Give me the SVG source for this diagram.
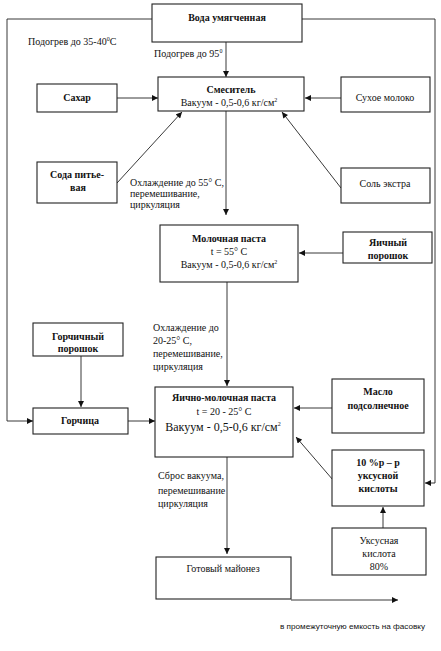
<svg xmlns="http://www.w3.org/2000/svg" width="441" height="651" viewBox="0 0 441 651">
<defs>
<marker id="ah" viewBox="0 0 10 10" refX="10" refY="5" markerWidth="7" markerHeight="6" markerUnits="userSpaceOnUse" orient="auto">
<path d="M0,0 L10,5 L0,10 z" fill="#111"/>
</marker>
<style>
.box{fill:#fff;stroke:#222;stroke-width:1.1}
.ln{fill:none;stroke:#222;stroke-width:0.9;marker-end:url(#ah)}
.nl{fill:none;stroke:#222;stroke-width:0.9}
text{font-family:"Liberation Serif","Times New Roman",serif;font-size:10px;fill:#111}
.b{font-weight:bold}
.c{text-anchor:middle}
.sup{font-size:6px}
</style>
</defs>
<rect width="441" height="651" fill="#fff"/>
<g id="connectors">
<path class="ln" d="M152,19 H7 V421 H33"/>
<path class="ln" d="M302,19 H435 V483 H425"/>
<path class="ln" d="M226,42 V77"/>
<path class="ln" d="M117,98 H158"/>
<path class="ln" d="M341,98 H305"/>
<path class="ln" d="M117,183 L182,112"/>
<path class="ln" d="M341,188 L282,112"/>
<path class="ln" d="M226,111 V215"/>
<path class="ln" d="M343,253 H299"/>
<path class="ln" d="M227,282 V386"/>
<path class="ln" d="M81,356 V407"/>
<path class="ln" d="M128,421 H155"/>
<path class="ln" d="M332,408 H294"/>
<path class="ln" d="M333,480 L296,437"/>
<path class="ln" d="M383,528 V507"/>
<path class="ln" d="M227,457 V554"/>
<path class="ln" d="M291,600 H398"/>
</g>
<g id="labels">
<text x="28" y="45">Подогрев до 35-40<tspan class="sup" dy="-4">0</tspan><tspan dy="4">С</tspan></text>
<text x="154" y="57">Подогрев до 95<tspan class="sup" dy="-4">0</tspan></text>
<text x="130" y="186">Охлаждение до 55° С,</text>
<text x="130" y="197">перемешивание,</text>
<text x="130" y="208">циркуляция</text>
<text x="153" y="331">Охлаждение до</text>
<text x="153" y="344">20-25° С,</text>
<text x="153" y="357">перемешивание,</text>
<text x="153" y="370">циркуляция</text>
<text x="158" y="479">Сброс вакуума,</text>
<text x="158" y="494">перемешивание</text>
<text x="158" y="507">циркуляция</text>
<text x="280" y="629" style="font-family:'Liberation Sans',Arial,sans-serif;font-size:8px" textLength="145" lengthAdjust="spacingAndGlyphs">в промежуточную емкость  на фасовку</text>
</g>
<g id="voda"><rect class="box" x="152" y="4" width="150" height="38"/><text class="b c" x="227" y="21">Вода умягченная</text></g>
<g id="smesitel"><rect class="box" x="158" y="77" width="146" height="34"/><text class="b c" x="231" y="93">Смеситель</text><text class="c" x="229" y="106">Вакуум  - 0,5-0,6  кг/см<tspan class="sup" dy="-4">2</tspan></text></g>
<g id="sahar"><rect class="box" x="37" y="84" width="80" height="28"/><text class="b c" x="77" y="101">Сахар</text></g>
<g id="suhoe"><rect class="box" x="341" y="77" width="89" height="35"/><text class="c" x="385" y="101">Сухое молоко</text></g>
<g id="soda"><rect class="box" x="37" y="162" width="80" height="41"/><text class="b c" x="77" y="178">Сода питье-</text><text class="b c" x="78" y="191">вая</text></g>
<g id="sol"><rect class="box" x="341" y="168" width="89" height="35"/><text class="c" x="385" y="187">Соль экстра</text></g>
<g id="molpasta"><rect class="box" x="160" y="225" width="138" height="57"/><text class="b c" x="229" y="242">Молочная паста</text><text class="c" x="229" y="255">t = 55° C</text><text class="c" x="229" y="268">Вакуум - 0,5-0,6  кг/см<tspan class="sup" dy="-4">2</tspan></text></g>
<g id="yaichny"><rect class="box" x="343" y="232" width="89" height="31"/><text class="b c" x="388" y="246">Яичный</text><text class="b c" x="388" y="259">порошок</text></g>
<g id="gorchporosh"><rect class="box" x="33" y="323" width="90" height="33"/><text class="b c" x="78" y="340">Горчичный</text><text class="b c" x="78" y="352">порошок</text></g>
<g id="gorchica"><rect class="box" x="33" y="408" width="95" height="26"/><text class="b c" x="80" y="424">Горчица</text></g>
<g id="yaichnomol"><rect class="box" x="155" y="387" width="138" height="70"/><text class="b c" x="224" y="401">Яично-молочная паста</text><text class="c" x="224" y="415">t = 20 - 25° C</text><text class="c" x="223" y="431" style="font-size:12px">Вакуум - 0,5-0,6  кг/см<tspan class="sup" dy="-5">2</tspan></text></g>
<g id="maslo"><rect class="box" x="332" y="379" width="92" height="54"/><text class="b c" x="378" y="395">Масло</text><text class="b c" x="378" y="409">подсолнечное</text></g>
<g id="uks10"><rect class="box" x="332" y="450" width="92" height="56"/><text class="b c" x="378" y="466">10 %р – р</text><text class="b c" x="378" y="479">уксусной</text><text class="b c" x="378" y="492">кислоты</text></g>
<g id="uks80"><rect class="box" x="332" y="528" width="94" height="47"/><text class="c" x="379" y="544">Уксусная</text><text class="c" x="379" y="557">кислота</text><text class="c" x="379" y="570">80%</text></g>
<g id="gotovy"><rect class="box" x="156" y="557" width="135" height="42"/><text class="c" x="223" y="572">Готовый майонез</text></g>
</svg>
